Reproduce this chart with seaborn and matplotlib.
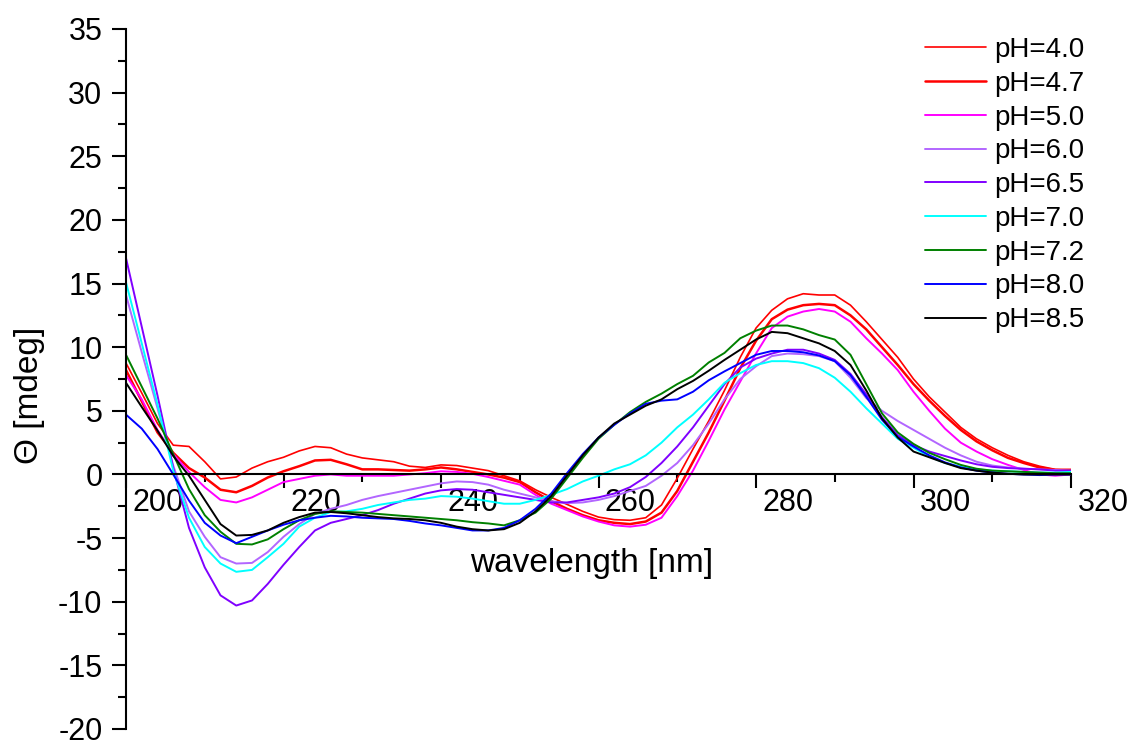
import matplotlib
matplotlib.use("Agg")
import matplotlib.pyplot as plt
import matplotlib.transforms as mtransforms
from matplotlib.ticker import MultipleLocator
import seaborn as sns
import numpy as np

sns.set_style("ticks")
plt.rcParams["font.family"] = ["Liberation Sans", "DejaVu Sans"]
plt.rcParams["axes.unicode_minus"] = False
plt.rcParams["text.color"] = "black"
plt.rcParams["axes.labelcolor"] = "black"
plt.rcParams["axes.edgecolor"] = "black"
plt.rcParams["xtick.color"] = "black"
plt.rcParams["ytick.color"] = "black"

# wavelength grid (nm)
wavelength = list(range(200, 321, 2))

ph_4_0 = [8.75, 6.4, 4.0, 2.3, 2.2, 1.0, -0.35, -0.2, 0.5, 1.0,
          1.35, 1.85, 2.2, 2.1, 1.6, 1.3, 1.15, 1.0, 0.65, 0.55,
          0.75, 0.7, 0.5, 0.3, -0.1, -0.5, -1.2, -1.8, -2.35, -2.9,
          -3.35, -3.55, -3.6, -3.4, -2.4, -0.3, 2.0, 4.2, 6.6, 9.2,
          11.5, 12.9, 13.8, 14.2, 14.1, 14.1, 13.3, 12.0, 10.6, 9.2,
          7.5, 6.1, 4.9, 3.7, 2.8, 2.1, 1.5, 1.0, 0.65, 0.4,
          0.4]
ph_4_7 = [8.2, 5.75, 3.3, 1.7, 0.5, -0.24, -1.2, -1.4, -0.9, -0.24,
          0.25, 0.65, 1.1, 1.15, 0.8, 0.4, 0.4, 0.35, 0.3, 0.4,
          0.55, 0.4, 0.2, 0.0, -0.25, -0.6, -1.4, -2.1, -2.7, -3.2,
          -3.6, -3.8, -3.9, -3.7, -3.0, -1.3, 1.0, 3.3, 5.8, 8.35,
          10.5, 12.2, 12.95, 13.3, 13.4, 13.3, 12.5, 11.4, 10.0, 8.6,
          7.1, 5.8, 4.6, 3.5, 2.6, 1.9, 1.3, 0.9, 0.55, 0.35,
          0.3]
ph_5_0 = [7.8, 5.9, 3.5, 1.6, 0.2, -1.0, -2.0, -2.2, -1.8, -1.2,
          -0.6, -0.35, -0.1, 0.0, -0.1, -0.1, -0.1, -0.1, 0.0, 0.1,
          0.25, 0.2, 0.05, -0.2, -0.5, -0.8, -1.6, -2.3, -2.8, -3.3,
          -3.7, -4.0, -4.1, -3.95, -3.4, -1.7, 0.3, 2.65, 5.1, 7.3,
          9.5, 11.5, 12.4, 12.8, 13.0, 12.8, 12.0, 10.7, 9.5, 8.2,
          6.5, 5.0, 3.6, 2.5, 1.8, 1.2, 0.75, 0.35, 0.0, -0.1,
          0.0]
ph_6_0 = [14.1, 9.6, 5.2, 0.7, -2.9, -4.9, -6.5, -7.0, -6.95, -6.1,
          -4.9, -3.9, -3.1, -2.7, -2.4, -2.0, -1.7, -1.45, -1.2, -0.95,
          -0.7, -0.55, -0.6, -0.8, -1.2, -1.5, -1.8, -2.1, -2.25, -2.2,
          -2.0, -1.7, -1.3, -0.9, -0.1, 0.9, 2.3, 4.0, 5.9, 7.5,
          8.5, 9.3, 9.5, 9.45, 9.3, 8.9, 7.6, 6.0, 5.0, 4.2,
          3.5, 2.8, 2.1, 1.5, 1.0, 0.7, 0.55, 0.45, 0.4, 0.35,
          0.3]
ph_6_5 = [17.0, 11.6, 6.2, 0.5, -4.2, -7.3, -9.5, -10.3, -9.9, -8.6,
          -7.1, -5.7, -4.4, -3.8, -3.5, -3.2, -2.8, -2.3, -1.9, -1.5,
          -1.25, -1.15, -1.2, -1.4, -1.6, -1.8, -2.0, -2.2, -2.2, -2.0,
          -1.8, -1.5, -1.0, -0.2, 0.9, 2.2, 3.7, 5.4, 7.1, 8.4,
          9.1, 9.5, 9.8, 9.8, 9.5, 9.0, 7.9, 6.3, 4.5, 3.1,
          2.3, 1.8, 1.45, 1.1, 0.8, 0.6, 0.5, 0.45, 0.4, 0.3,
          0.3]
ph_7_0 = [15.1, 10.3, 5.5, 0.3, -3.4, -5.7, -7.0, -7.65, -7.5, -6.5,
          -5.45, -4.1, -3.4, -2.95, -2.9, -2.7, -2.4, -2.2, -2.0, -1.9,
          -1.7, -1.75, -1.9, -2.1, -2.3, -2.3, -2.0, -1.6, -1.15, -0.55,
          -0.1, 0.4, 0.8, 1.5, 2.5, 3.7, 4.7, 5.9, 7.2, 7.96,
          8.6, 8.9, 8.9, 8.75, 8.35, 7.6, 6.5, 5.2, 4.0, 2.8,
          2.1, 1.4, 0.9, 0.6, 0.4, 0.3, 0.25, 0.2, 0.15, 0.15,
          0.2]
ph_7_2 = [9.4, 6.9, 4.4, 1.6, -1.15, -3.2, -4.5, -5.45, -5.5, -5.1,
          -4.3, -3.6, -3.1, -2.9, -2.95, -3.0, -3.1, -3.2, -3.3, -3.4,
          -3.5, -3.6, -3.75, -3.85, -4.0, -3.6, -3.0, -1.9, -0.3, 1.3,
          2.8, 3.9, 4.9, 5.7, 6.35, 7.1, 7.75, 8.8, 9.55, 10.7,
          11.3, 11.7, 11.7, 11.4, 10.95, 10.6, 9.4, 7.1, 4.8, 3.3,
          2.4, 1.7, 1.2, 0.75, 0.45, 0.3, 0.25, 0.2, 0.15, 0.1,
          0.1]
ph_8_0 = [4.7, 3.6, 2.0, 0.0, -2.05, -3.8, -4.8, -5.4, -4.9, -4.4,
          -3.95, -3.6, -3.4, -3.25, -3.3, -3.4, -3.45, -3.5, -3.65, -3.85,
          -4.0, -4.2, -4.4, -4.4, -4.2, -3.6, -2.7, -1.5, 0.1, 1.6,
          2.9, 3.9, 4.8, 5.55, 5.8, 5.9, 6.5, 7.4, 8.1, 8.75,
          9.4, 9.7, 9.7, 9.6, 9.35, 8.9, 7.8, 6.1, 4.3, 2.95,
          2.2, 1.5, 0.95, 0.55, 0.3, 0.15, 0.05, 0.0, -0.05, 0.0,
          0.0]
ph_8_5 = [7.2, 5.3, 3.45, 1.45, -0.1, -2.0, -3.9, -4.8, -4.75, -4.4,
          -3.8, -3.35, -3.0, -2.95, -3.05, -3.2, -3.35, -3.45, -3.5, -3.6,
          -3.8, -4.1, -4.3, -4.4, -4.3, -3.8, -2.9, -1.7, -0.1, 1.5,
          2.9, 4.0, 4.7, 5.4, 5.9, 6.7, 7.35, 8.15, 9.0, 9.8,
          10.6, 11.2, 11.1, 10.7, 10.3, 9.7, 8.6, 6.6, 4.4, 2.9,
          1.8, 1.35, 0.9, 0.5, 0.3, 0.15, 0.05, 0.0, 0.0, 0.0,
          0.0]

labels = ["pH=4.0", "pH=4.7", "pH=5.0", "pH=6.0", "pH=6.5",
          "pH=7.0", "pH=7.2", "pH=8.0", "pH=8.5"]
series = [ph_4_0, ph_4_7, ph_5_0, ph_6_0, ph_6_5, ph_7_0, ph_7_2, ph_8_0, ph_8_5]
colors = ["#FF0000", "#FF0000", "#FF00FF", "#B266FF", "#8000FF",
          "#00FFFF", "#008000", "#0000FF", "#000000"]
widths = [1.2, 1.8, 1.4, 1.4, 1.4, 1.4, 1.4, 1.4, 1.4]

fig = plt.figure(figsize=(11.39, 7.46), dpi=100)
ax = fig.add_axes([126 / 1139, 17 / 746, 945 / 1139, 700 / 746])

for vals, lab, c, w in zip(series, labels, colors, widths):
    sns.lineplot(x=wavelength, y=vals, color=c, linewidth=w, label=lab, ax=ax)

ax.set_xlim(200, 320)
ax.set_ylim(-20, 35)

ax.spines["top"].set_visible(False)
ax.spines["right"].set_visible(False)
ax.spines["bottom"].set_position(("data", 0))
ax.spines["left"].set_linewidth(1.5)
ax.spines["bottom"].set_linewidth(1.5)

ax.xaxis.set_major_locator(MultipleLocator(20))
ax.xaxis.set_minor_locator(MultipleLocator(10))
ax.yaxis.set_major_locator(MultipleLocator(5))
ax.yaxis.set_minor_locator(MultipleLocator(2.5))
ax.tick_params(axis="both", which="major", direction="out", length=10, width=1.5,
               labelsize=22, colors="black")
ax.tick_params(axis="both", which="minor", direction="out", length=5.5, width=1.5)
ax.tick_params(axis="x", which="major", pad=0)
ax.tick_params(axis="y", which="major", pad=7)

# shift x tick labels to the right like the original
offset = mtransforms.ScaledTranslation(0.32, 0, fig.dpi_scale_trans)
for tick in ax.xaxis.get_major_ticks():
    tick.label1.set_transform(tick.label1.get_transform() + offset)

ax.set_xlabel("wavelength [nm]", fontsize=24, color="black")
ax.xaxis.set_label_coords(0.493, 0.2358)
ax.xaxis.label.set_va("center")
ax.set_ylabel("Θ [mdeg]", fontsize=24, color="black")
ax.yaxis.set_label_coords(-0.1016, 0.476)
ax.yaxis.label.set_va("center")

leg = ax.legend(loc="upper left", bbox_to_anchor=(925 / 1139, 1 - 37 / 746),
                bbox_transform=fig.transFigure, frameon=False, fontsize=20,
                handlelength=2.2, handletextpad=0.3, labelspacing=0.28,
                borderpad=0, borderaxespad=0)
for t in leg.get_texts():
    t.set_color("black")

fig.savefig("out.png", dpi=100)
plt.close(fig)
